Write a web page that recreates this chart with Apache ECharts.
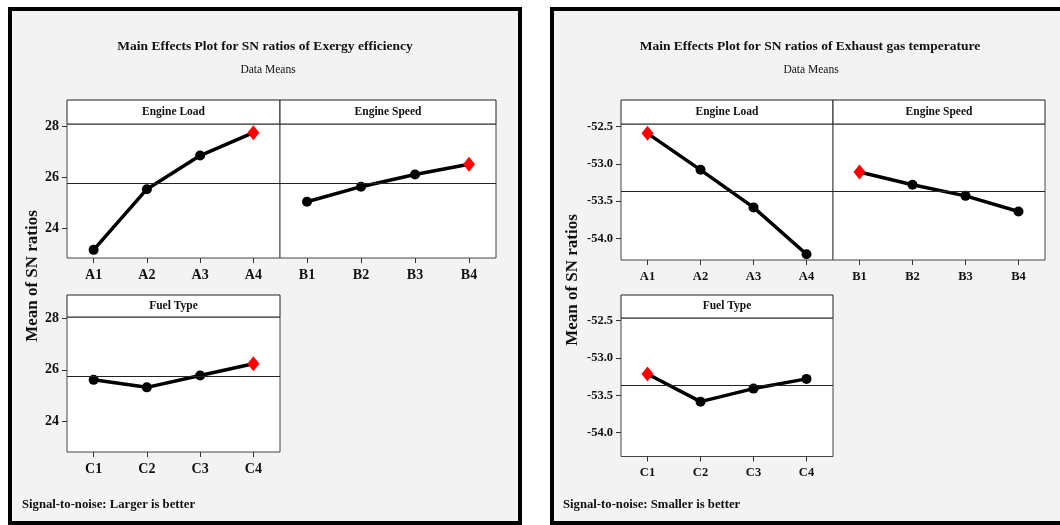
<!DOCTYPE html>
<html>
<head>
<meta charset="utf-8">
<script src="https://cdn.jsdelivr.net/npm/echarts@6/dist/echarts.min.js"></script>
<style>
html,body{margin:0;padding:0;background:#fff;}
#main{width:1060px;height:525px;}
</style>
</head>
<body>
<div id="main"></div>
<script>
// ---------- data ----------
const loadCats = ['A1', 'A2', 'A3', 'A4'];
const speedCats = ['B1', 'B2', 'B3', 'B4'];
const fuelCats = ['C1', 'C2', 'C3', 'C4'];

const exergyLoad = [23.14, 25.52, 26.84, 27.74];
const exergySpeed = [25.03, 25.62, 26.10, 26.50];
const exergyFuel = [25.61, 25.32, 25.78, 26.23];
const exergyMean = 25.76;
const exergyBest = [3, 3, 3];
const exergyTicks = [24, 26, 28];

const exhaustLoad = [-52.59, -53.08, -53.585, -54.215];
const exhaustSpeed = [-53.11, -53.28, -53.43, -53.64];
const exhaustFuel = [-53.215, -53.585, -53.41, -53.28];
const exhaustMean = -53.37;
const exhaustBest = [0, 0, 0];
const exhaustTicks = [-54.0, -53.5, -53.0, -52.5];

const panelNames = ['Engine Load', 'Engine Speed', 'Fuel Type'];

// ---------- layout ----------
const F = '"Liberation Serif", "Times New Roman", serif';
const TXT = '#111';
const panels = [
  // left chart
  {left: 67, top: 124, width: 213, height: 134, hTop: 100, min: 22.82, max: 28.08},
  {left: 280, top: 124, width: 216, height: 134, hTop: 100, min: 22.82, max: 28.08},
  {left: 67, top: 317, width: 213, height: 135, hTop: 295, min: 22.82, max: 28.04},
  // right chart
  {left: 621, top: 124, width: 212, height: 136, hTop: 100, min: -54.292, max: -52.464},
  {left: 833, top: 124, width: 212, height: 136, hTop: 100, min: -54.292, max: -52.464},
  {left: 621, top: 318, width: 212, height: 138.5, hTop: 295, min: -54.32, max: -52.464}
];
const catsList = [loadCats, speedCats, fuelCats, loadCats, speedCats, fuelCats];
const valsList = [exergyLoad, exergySpeed, exergyFuel, exhaustLoad, exhaustSpeed, exhaustFuel];
const bestList = [exergyBest[0], exergyBest[1], exergyBest[2], exhaustBest[0], exhaustBest[1], exhaustBest[2]];
const meanList = [exergyMean, exergyMean, exergyMean, exhaustMean, exhaustMean, exhaustMean];
const tickList = [exergyTicks, exergyTicks, exergyTicks, exhaustTicks, exhaustTicks, exhaustTicks];
const showY = [true, false, true, true, false, true];

const grids = panels.map(p => ({
  left: p.left, top: p.top, width: p.width, height: p.height,
  show: true, backgroundColor: '#fff', borderColor: '#444', borderWidth: 1, containLabel: false
}));

const xAxes = panels.map((p, i) => ({
  type: 'category', gridIndex: i, data: catsList[i],
  axisLine: {show: false},
  axisTick: {show: true, alignWithLabel: true, length: 5, lineStyle: {color: '#333'}},
  axisLabel: {margin: 10, fontFamily: F, fontWeight: 'bold', fontSize: i < 3 ? 14 : 12.5, color: TXT},
  splitLine: {show: false}
}));

const yAxes = panels.map((p, i) => ({
  type: 'value', gridIndex: i, min: p.min, max: p.max,
  axisLine: {show: false},
  splitLine: {show: false},
  axisTick: {show: showY[i], length: 5, customValues: tickList[i], lineStyle: {color: '#333'}},
  axisLabel: {
    show: showY[i], customValues: tickList[i], margin: 8,
    fontFamily: F, fontWeight: 'bold', fontSize: i < 3 ? 14 : 12.5, color: TXT,
    formatter: v => i < 3 ? String(Math.round(v)) : Number(v).toFixed(1)
  }
}));

const series = panels.map((p, i) => ({
  type: 'line', xAxisIndex: i, yAxisIndex: i,
  data: valsList[i].map((v, k) => k === bestList[i]
    ? {value: v, symbol: 'diamond', symbolSize: [12, 15], itemStyle: {color: '#ff0000'}}
    : v),
  symbol: 'circle', symbolSize: 10,
  lineStyle: {color: '#000', width: 3.5},
  itemStyle: {color: '#000'},
  z: 3,
  markLine: {
    silent: true, symbol: 'none', label: {show: false},
    lineStyle: {color: '#222', width: 1, type: 'solid'},
    data: [{yAxis: meanList[i]}]
  }
}));

const graphics = [];
// outer boxes
graphics.push({type: 'rect', z: -10, shape: {x: 10, y: 9, width: 510, height: 514},
  style: {fill: '#f3f3f3', stroke: '#000', lineWidth: 4}});
graphics.push({type: 'rect', z: -10, shape: {x: 552, y: 9, width: 520, height: 514},
  style: {fill: '#f3f3f3', stroke: '#000', lineWidth: 4}});
// panel header strips
panels.forEach((p, i) => {
  graphics.push({type: 'rect', z: 5, shape: {x: p.left, y: p.hTop, width: p.width, height: p.top - p.hTop},
    style: {fill: '#fff', stroke: '#222', lineWidth: 1}});
  graphics.push({type: 'text', z: 6, x: p.left + p.width / 2, y: (p.hTop + p.top) / 2,
    style: {text: panelNames[i % 3], fill: TXT, font: 'bold 11.5px ' + F,
      align: 'center', verticalAlign: 'middle', textAlign: 'center', textVerticalAlign: 'middle'}});
});
// y-axis names
[[33, 276], [573, 280]].forEach(([x, y]) => {
  graphics.push({type: 'text', z: 6, x: x, y: y, rotation: Math.PI / 2,
    style: {text: 'Mean of SN ratios', fill: TXT, font: 'bold 17px ' + F,
      align: 'center', verticalAlign: 'middle', textAlign: 'center', textVerticalAlign: 'middle'}});
});

const titleStyle = {fontFamily: F, fontWeight: 'bold', fontSize: 13.5, color: TXT};
const subStyle = {fontFamily: F, fontWeight: 'normal', fontSize: 11.5, color: TXT};
const footStyle = {fontFamily: F, fontWeight: 'bold', fontSize: 12.7, color: TXT};

const option = {
  animation: false,
  backgroundColor: '#fff',
  title: [
    {text: 'Main Effects Plot for SN ratios of Exergy efficiency', left: 265, top: 40, padding: 0, textAlign: 'center', textStyle: titleStyle},
    {text: 'Data Means', left: 268, top: 64, padding: 0, textAlign: 'center', textStyle: subStyle},
    {text: 'Main Effects Plot for SN ratios of Exhaust gas temperature', left: 810, top: 40, padding: 0, textAlign: 'center', textStyle: titleStyle},
    {text: 'Data Means', left: 811, top: 64, padding: 0, textAlign: 'center', textStyle: subStyle},
    {text: 'Signal-to-noise: Larger is better', left: 22, top: 498, padding: 0, textStyle: footStyle},
    {text: 'Signal-to-noise: Smaller is better', left: 563, top: 498, padding: 0, textStyle: footStyle}
  ],
  grid: grids,
  xAxis: xAxes,
  yAxis: yAxes,
  series: series,
  graphic: {elements: graphics}
};

const chart = echarts.init(document.getElementById('main'), null, {renderer: 'canvas', width: 1060, height: 525});
chart.setOption(option);
</script>
</body>
</html>
